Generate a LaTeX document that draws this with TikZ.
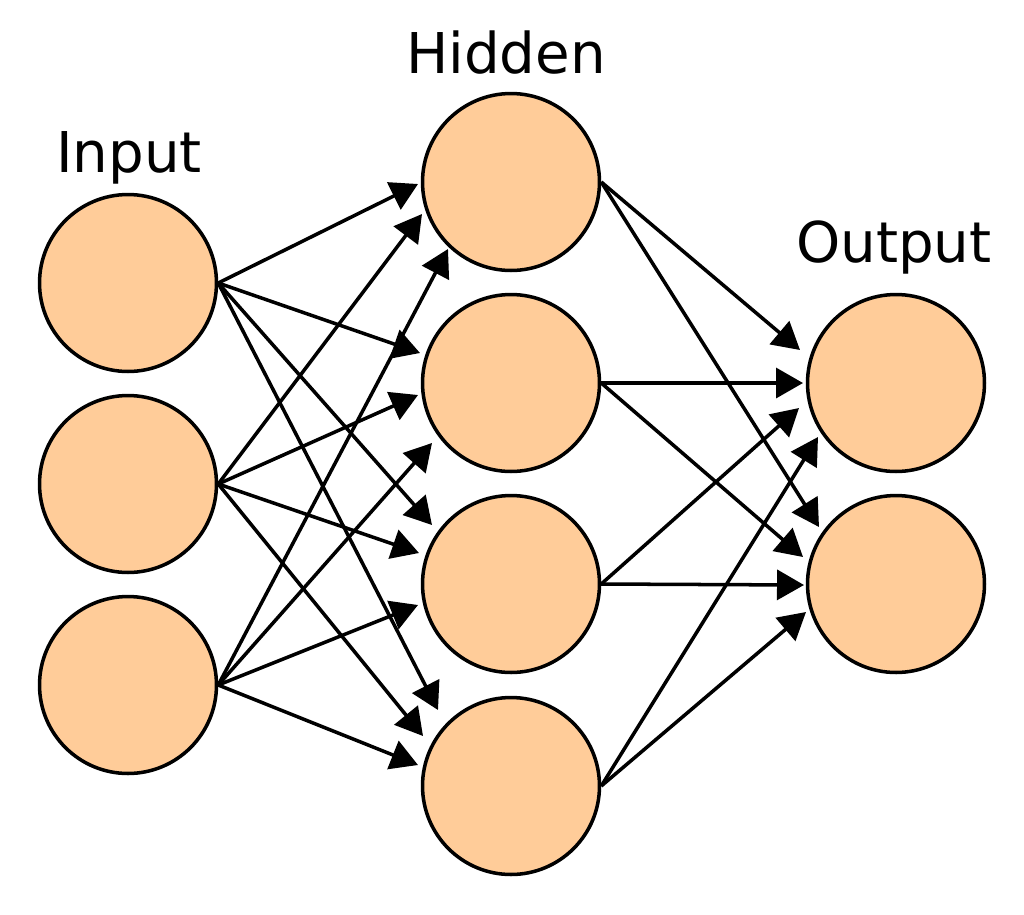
\documentclass[tikz,border=0pt]{standalone}
\usepackage{fontspec}
\setmainfont{DejaVu Sans}
\usepackage{tikz}
\usetikzlibrary{arrows.meta,calc}
\definecolor{neuron}{RGB}{255,204,153}
\tikzset{neuron it/.style={circle, draw=black, line width=2pt, fill=neuron, minimum size=3.54cm, inner sep=0pt},
  layer it/.style={anchor=base, inner sep=0pt, font=\fontsize{32pt}{38pt}\selectfont},
  conn/.style={line width=2pt, -{Triangle[length=0.54cm, width=0.6cm]}}}

\begin{document}
\begin{tikzpicture}[x=0.02cm, y=-0.02cm]
    \useasboundingbox (0,0) rectangle (1024,914);
    \node [layer it] (lin) at (129,172) {Input};
    \node [layer it] (lhid) at (506,73) {Hidden};
    \node [layer it] (lout) at (894,262) {Output};
    \node [neuron it] (i1) at (128,283) {};
    \node [neuron it] (i2) at (128,484) {};
    \node [neuron it] (i3) at (128,685) {};
    \node [neuron it] (h1) at (511,182) {};
    \node [neuron it] (h2) at (511,383) {};
    \node [neuron it] (h3) at (511,584) {};
    \node [neuron it] (h4) at (511,786) {};
    \node [neuron it] (o1) at (896,383) {};
    \node [neuron it] (o2) at (896,584) {};
    % input -> hidden
    \draw [conn] (i1.east) -- ($(h1)+(-93,2)$);
    \draw [conn] (i1.east) -- ($(h2)+(-91,-30)$);
    \draw [conn] (i1.east) -- ($(h3)+(-79,-59)$);
    \draw [conn] (i1.east) -- ($(h4)+(-73,-76)$);
    \draw [conn] (i2.east) -- ($(h1)+(-89,32)$);
    \draw [conn] (i2.east) -- ($(h2)+(-93,12)$);
    \draw [conn] (i2.east) -- ($(h3)+(-92,-31)$);
    \draw [conn] (i2.east) -- ($(h4)+(-88,-50)$);
    \draw [conn] (i3.east) -- ($(h1)+(-63,67)$);
    \draw [conn] (i3.east) -- ($(h2)+(-79,60)$);
    \draw [conn] (i3.east) -- ($(h3)+(-93,21)$);
    \draw [conn] (i3.east) -- ($(h4)+(-93,-21)$);
    % hidden -> output
    \draw [conn] (h1.east) -- ($(o1)+(-96,-33)$);
    \draw [conn] (h1.east) -- ($(o2)+(-77,-57)$);
    \draw [conn] (h2.east) -- ($(o1)+(-93,0)$);
    \draw [conn] (h2.east) -- ($(o2)+(-93,-27)$);
    \draw [conn] (h3.east) -- ($(o1)+(-97,25)$);
    \draw [conn] (h3.east) -- ($(o2)+(-92,1)$);
    \draw [conn] (h4.east) -- ($(o1)+(-78,54)$);
    \draw [conn] (h4.east) -- ($(o2)+(-90,28)$);
\end{tikzpicture}
\end{document}
